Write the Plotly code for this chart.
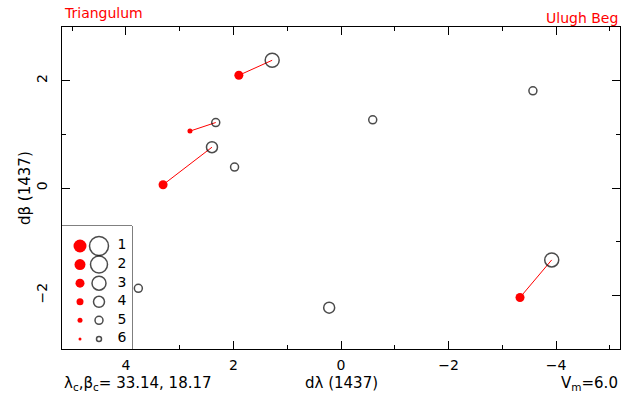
import plotly.graph_objects as go

# Data
open_x = [1.28, 2.33, 2.40, -3.92, 1.98, -0.59, -3.57, 3.77, 0.22]
open_y = [2.38, 1.22, 0.76, -1.34, 0.39, 1.27, 1.81, -1.87, -2.23]
open_mag = [3, 5, 4, 3, 5, 5, 5, 5, 4]
red_x = [1.90, 2.81, 3.31, -3.33]
red_y = [2.10, 1.06, 0.06, -2.04]
red_mag = [3, 5, 3, 3]
legend_mags = [1, 2, 3, 4, 5, 6]
x_ticks = [4, 2, 0, -2, -4]
y_ticks = [-2, 0, 2]

open_size = {1: 19, 2: 17, 3: 14, 4: 11, 5: 8, 6: 5}
red_size = {1: 13, 2: 11, 3: 9, 4: 7, 5: 5, 6: 3}

FONT = "DejaVu Sans"
RED = "#ff0000"

fig = go.Figure()

# connecting lines
lx, ly = [], []
for i in range(len(red_x)):
    lx += [red_x[i], open_x[i], None]
    ly += [red_y[i], open_y[i], None]
fig.add_trace(go.Scatter(x=lx, y=ly, mode="lines", line=dict(color=RED, width=1),
                         hoverinfo="skip", showlegend=False))
fig.add_trace(go.Scatter(x=red_x, y=red_y, mode="markers",
                         marker=dict(color=RED, opacity=1, size=[red_size[m] for m in red_mag], line=dict(width=0)),
                         showlegend=False))
fig.add_trace(go.Scatter(x=open_x, y=open_y, mode="markers",
                         marker=dict(color="rgba(0,0,0,0)", size=[open_size[m] for m in open_mag],
                                     line=dict(color="black", width=1.5)),
                         showlegend=False))

# legend box contents on secondary axes
rows = list(range(1, len(legend_mags) + 1))
fig.add_trace(go.Scatter(x=[18] * len(rows), y=rows, mode="markers", xaxis="x2", yaxis="y2",
                         marker=dict(color=RED, opacity=1, size=[red_size[m] for m in legend_mags], line=dict(width=0)),
                         showlegend=False, hoverinfo="skip"))
fig.add_trace(go.Scatter(x=[37] * len(rows), y=rows, mode="markers", xaxis="x2", yaxis="y2",
                         marker=dict(color="rgba(0,0,0,0)", size=[open_size[m] for m in legend_mags],
                                     line=dict(color="black", width=1.5)),
                         showlegend=False, hoverinfo="skip"))
fig.add_trace(go.Scatter(x=[60] * len(rows), y=rows, mode="text", xaxis="x2", yaxis="y2",
                         text=[str(m) for m in legend_mags], textposition="middle center",
                         textfont=dict(family=FONT, size=14, color="black"),
                         showlegend=False, hoverinfo="skip"))

axis_common = dict(showgrid=False, zeroline=False, showline=True, linecolor="black", linewidth=1,
                   mirror="ticks", ticks="inside", ticklen=8, tickcolor="black", tickwidth=1,
                   tickfont=dict(family=FONT, size=14, color="black"),
                   minor=dict(ticks="inside", ticklen=4, dtick=1, tickcolor="black", tickwidth=1, showgrid=False))

fig.update_layout(
    width=643, height=406,
    margin=dict(l=62, r=23, t=27, b=57),
    paper_bgcolor="white", plot_bgcolor="white",
    hovermode=False,
    xaxis=dict(range=[5.19, -5.19], tickvals=x_ticks, ticktext=[str(v).replace("-", "−") for v in x_ticks],
               ticklabelstandoff=3, **axis_common),
    yaxis=dict(range=[-3, 3], tickvals=y_ticks, ticktext=[str(v).replace("-", "−") for v in y_ticks],
               tickangle=-90, ticklabelstandoff=8, **axis_common),
    xaxis2=dict(domain=[0, 70 / 558], range=[0, 70], anchor="y2", visible=False, fixedrange=True),
    yaxis2=dict(domain=[0, 123 / 322], range=[6.54, -0.075], anchor="x2", visible=False, fixedrange=True),
    showlegend=False,
)

fig.add_shape(type="rect", xref="paper", yref="paper", x0=0, x1=70 / 558, y0=0, y1=123 / 322,
              line=dict(color="black", width=1), fillcolor="white", layer="below")

ann_font = dict(family=FONT, size=15, color="black")
fig.add_annotation(text="Triangulum", xref="paper", yref="paper", x=0, y=1.045, xanchor="left",
                   yanchor="middle", showarrow=False, font=dict(family=FONT, size=14, color=RED))
fig.add_annotation(text="Ulugh Beg", xref="paper", yref="paper", x=1, y=1.028, xanchor="right",
                   yanchor="middle", showarrow=False, font=dict(family=FONT, size=14, color=RED))
fig.add_annotation(text="dλ (1437)", xref="paper", yref="paper", x=0.5, y=-0.106, xanchor="center",
                   yanchor="middle", showarrow=False, font=ann_font)
fig.add_annotation(text="λ<sub>c</sub>,β<sub>c</sub>= 33.14, 18.17", xref="paper", yref="paper", x=0,
                   y=-0.106, xanchor="left", yanchor="middle", showarrow=False, font=ann_font)
fig.add_annotation(text="V<sub>m</sub>=6.0", xref="paper", yref="paper", x=1, y=-0.106, xanchor="right",
                   yanchor="middle", showarrow=False, font=ann_font)
fig.add_annotation(text="dβ (1437)", xref="paper", yref="paper", x=-37 / 558, y=0.5, xanchor="center",
                   yanchor="middle", textangle=-90, showarrow=False, font=ann_font)

fig.write_html("out.html", config={"displayModeBar": False, "staticPlot": True},
               post_script="document.body.style.margin='0';document.body.style.overflow='hidden';")
